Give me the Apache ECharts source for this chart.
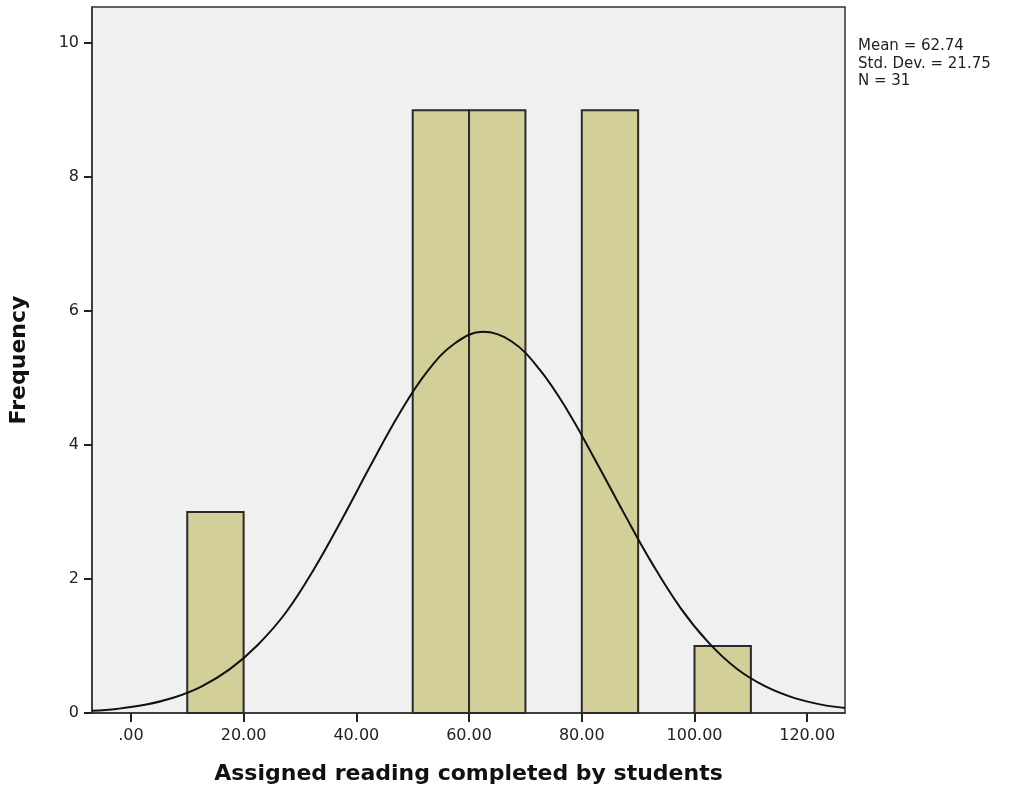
<!DOCTYPE html>
<html>
<head>
<meta charset="utf-8">
<script src="https://cdn.jsdelivr.net/npm/echarts@6/dist/echarts.min.js"></script>
<style>
  html, body { margin: 0; padding: 0; background: #fff; }
  #chart { width: 1032px; height: 790px; }
</style>
</head>
<body>
<div id="chart"></div>
<script>
// histogram bins (width 10)
const binStart = [10, 50, 60, 80, 100];
const binEnd = [20, 60, 70, 90, 110];
const counts = [3, 9, 9, 9, 1];

// normal curve as drawn in the picture
const curveX = [-6.9, -2.5, 2.5, 7.5, 12.5, 17.5, 22.5, 27.5, 32.5, 37.5, 42.5, 47.5, 52.5, 57.5, 62.5, 67.5, 72.5, 77.5, 82.5, 87.5, 92.5, 97.5, 102.5, 107.5, 112.5, 117.5, 122.5, 126.7];
const curveY = [0.034, 0.061, 0.122, 0.227, 0.395, 0.651, 1.016, 1.50, 2.15, 2.90, 3.69, 4.45, 5.09, 5.52, 5.69, 5.55, 5.13, 4.51, 3.76, 2.98, 2.23, 1.57, 1.05, 0.66, 0.40, 0.23, 0.125, 0.075];

const xTicks = [0, 20, 40, 60, 80, 100, 120];
const statLines = ['Mean = 62.74', 'Std. Dev. = 21.75', 'N = 31'];

const chart = echarts.init(document.getElementById('chart'));

const barData = binStart.map((s, i) => [s, binEnd[i], counts[i]]);
const curveData = curveX.map((x, i) => [x, curveY[i]]);

const option = {
  animation: false,
  textStyle: { fontFamily: 'DejaVu Sans' },
  grid: {
    left: 89, right: 187, top: 7, bottom: 76,
    show: true, backgroundColor: '#f0f0f0',
    borderColor: '#333', borderWidth: 1.5
  },
  xAxis: {
    type: 'value', min: -6.9, max: 126.7,
    name: 'Assigned reading completed by students',
    nameLocation: 'middle', nameGap: 50,
    nameTextStyle: { fontSize: 22, fontWeight: 'bold', color: '#111', fontFamily: 'DejaVu Sans' },
    axisLine: { show: true, onZero: false, lineStyle: { color: '#333', width: 1.5 } },
    axisTick: { show: true, length: 9, customValues: xTicks, lineStyle: { color: '#222', width: 2 } },
    axisLabel: {
      customValues: xTicks, fontSize: 16, color: '#222', margin: 15,
      formatter: v => v === 0 ? '.00' : v.toFixed(2)
    },
    splitLine: { show: false }
  },
  yAxis: {
    type: 'value', min: 0, max: 10.54, interval: 2,
    name: 'Frequency', nameLocation: 'middle', nameGap: 62, nameRotate: 90,
    nameTextStyle: { fontSize: 22, fontWeight: 'bold', color: '#111', fontFamily: 'DejaVu Sans' },
    axisLine: { show: true, onZero: false, lineStyle: { color: '#333', width: 1.5 } },
    axisTick: { show: true, length: 8, lineStyle: { color: '#222', width: 2 } },
    axisLabel: { fontSize: 16, color: '#222', margin: 13, showMaxLabel: false },
    splitLine: { show: false }
  },
  series: [
    {
      type: 'custom',
      data: barData,
      renderItem: function (params, api) {
        const p0 = api.coord([api.value(0), api.value(2)]);
        const p1 = api.coord([api.value(1), 0]);
        return {
          type: 'rect',
          shape: { x: p0[0], y: p0[1], width: p1[0] - p0[0], height: p1[1] - p0[1] },
          style: { fill: '#d3cf98', stroke: '#2a2a2a', lineWidth: 2 }
        };
      },
      z: 2
    },
    {
      type: 'line',
      data: curveData,
      smooth: 0.4,
      showSymbol: false,
      lineStyle: { color: '#111', width: 2 },
      z: 3
    }
  ],
  graphic: statLines.map((t, i) => ({
    type: 'text', left: 858, top: 39 + i * 17.5,
    style: { text: t, fontSize: 15, fill: '#222', fontFamily: 'DejaVu Sans' }
  }))
};

chart.setOption(option);
</script>
</body>
</html>
